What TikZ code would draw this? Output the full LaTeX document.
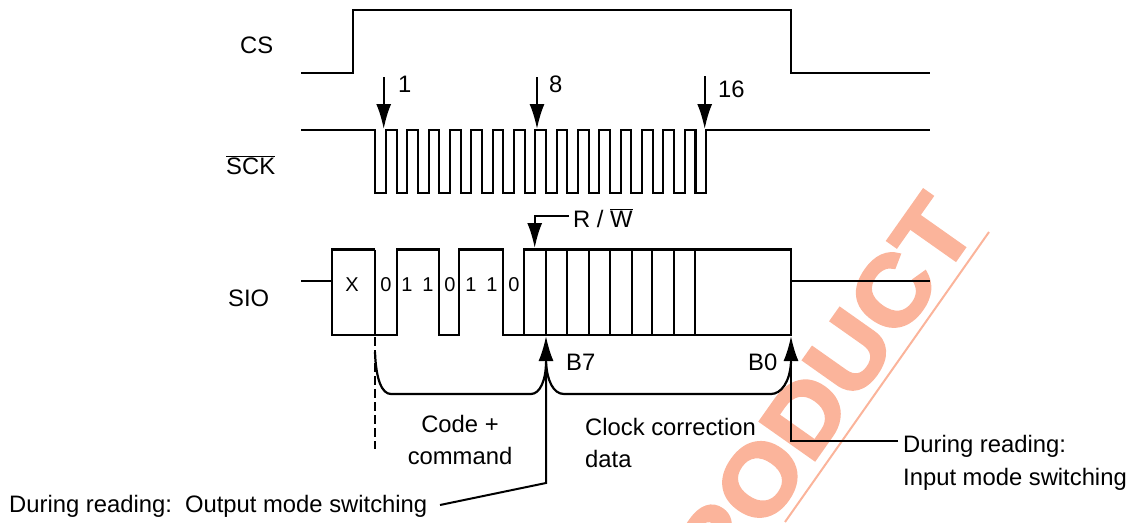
\documentclass[tikz,border=0pt]{standalone}
\usepackage{fontspec}
\setmainfont{Liberation Sans}
\newfontfamily\stampfont[BoldFeatures={FakeBold=3}]{Liberation Sans}
\usetikzlibrary{arrows.meta, positioning}
\definecolor{stampsalmon}{RGB}{251,180,155}

\begin{document}
\begin{tikzpicture}[
        x=1pt, y=-1pt,
        wave/.style={line width=2.2pt, line join=miter},
        arrow/.style={-{Latex[length=25pt, width=15pt]}, line width=2pt},
        lbl/.style={font=\fontsize{23.8}{28}\selectfont, align=left, inner sep=0pt, anchor=base west},
        midlbl/.style={font=\fontsize{23.8}{28}\selectfont, inner sep=0pt, anchor=base},
        smalllbl/.style={font=\fontsize{20}{24}\selectfont, inner sep=0pt, anchor=base},
        stamp/.style={font=\fontsize{97}{97}\stampfont\bfseries\selectfont, text=stampsalmon, inner sep=0pt, rotate=54.8, xscale=1.08}
    ]
        \useasboundingbox (0,0) rectangle (1135,522);
        \clip (0,0) rectangle (1135,522);

        % Stamp behind everything
        \node (stamp) [stamp] at (802,420) {PRODUCT};
        \coordinate (stampa) at (989,232);
        \coordinate (stampb) at (785,522);
        \draw [stampsalmon, line width=2pt] (stampa) -- (stampb);

        % CS
        \node (cslbl) [lbl] at (240,53) {CS};
        \draw [wave] (301,73) -- (353,73) -- (353,10) -- (791,10) -- (791,73) -- (930,73);

        % SCK
        \node (scklbl) [lbl] at (226,174) {$\overline{\mbox{SCK}}$};
        \draw [wave] (301,130) -- (375.3,130)
            \foreach \i in {0,...,15} { -- ++(0,63) -- ++(10.67,0) -- ++(0,-63) -- ++(10.67,0) }
            -- (930,130);

        % Clock numbers
        \coordinate (onetop) at (383.7,77);
        \coordinate (onetip) at (383.7,129);
        \coordinate (eighttop) at (537,77);
        \coordinate (eighttip) at (537,129);
        \coordinate (sixteentop) at (704.7,76);
        \coordinate (sixteentip) at (704.7,129);
        \draw [arrow] (onetop) -- (onetip);
        \draw [arrow] (eighttop) -- (eighttip);
        \draw [arrow] (sixteentop) -- (sixteentip);
        \node (one) [lbl] at (398,92) {1};
        \node (eight) [lbl] at (549,92) {8};
        \node (sixteen) [lbl] at (718,97) {16};

        % SIO
        \node (siolbl) [lbl] at (228,306) {SIO};
        \draw [wave] (301,281) -- (332.3,281);
        \draw [wave] (375,335) -- (332.3,335) -- (332.3,249.5) -- (375,249.5);
        \draw [wave] (375,249.5) -- (375,335) -- (396.7,335) -- (396.7,249.5) -- (439,249.5) -- (439,335) -- (459.3,335)
            -- (459.3,249.5) -- (503.3,249.5) -- (503.3,335) -- (791.3,335) -- (791.3,249.5) -- (524.3,249.5) -- (524.3,335);
        \foreach \x in {546,567.3,588.7,610,631.7,652.3,674,695.3} {
            \draw [wave] (\x,249.5) -- (\x,335);
        }
        \draw [wave] (791.3,281) -- (930,281);
        \node (xlbl) [smalllbl] at (352,291) {X};
        \foreach \x/\b in {386/0,407/1,428/1,450/0,471/1,492/1,514/0} {
            \node (bit\x) [smalllbl] at (\x,291) {\b};
        }

        % R/W
        \coordinate (rwstart) at (569,216);
        \coordinate (rwbend) at (534.7,216);
        \coordinate (rwtip) at (534.7,248);
        \draw [arrow] (rwstart) -- (rwbend) -- (rwtip);
        \node (rwlbl) [lbl] at (573,227) {R / $\overline{\mbox{W}}$};

        % Braces
        \draw [line width=2pt, dash pattern=on 9pt off 4pt] (375,337) -- (375,449);
        \draw [wave] (375,352) .. controls (376,380) and (382,394) .. (391,394) -- (531,394)
            .. controls (540,394) and (546,380) .. (546,362)
            .. controls (547,380) and (553,394) .. (564,394) -- (771,394)
            .. controls (781,394) and (790,382) .. (791,362);

        % Mode switching
        \coordinate (outbend) at (546,483);
        \coordinate (outtip) at (546,336);
        \coordinate (outend) at (440,505);
        \coordinate (inbend) at (791,441);
        \coordinate (intip) at (791,336);
        \coordinate (inend) at (898,441);
        \draw [arrow] (outend) -- (outbend) -- (outtip);
        \draw [arrow] (inend) -- (inbend) -- (intip);

        \node (b7) [lbl] at (566,370) {B7};
        \node (b0) [lbl] at (748,370) {B0};
        \node (code) [midlbl] at (460,432) {Code +};
        \node (command) [midlbl] at (460,464) {command};
        \node (clock) [lbl] at (585,435) {Clock correction};
        \node (data) [lbl] at (585,467) {data};
        \node (output) [lbl] at (9,512.5) {During reading:\ \ Output mode switching};
        \node (input1) [lbl] at (903,452) {During reading:};
        \node (input2) [lbl] at (903,485) {Input mode switching};
\end{tikzpicture}
\end{document}
